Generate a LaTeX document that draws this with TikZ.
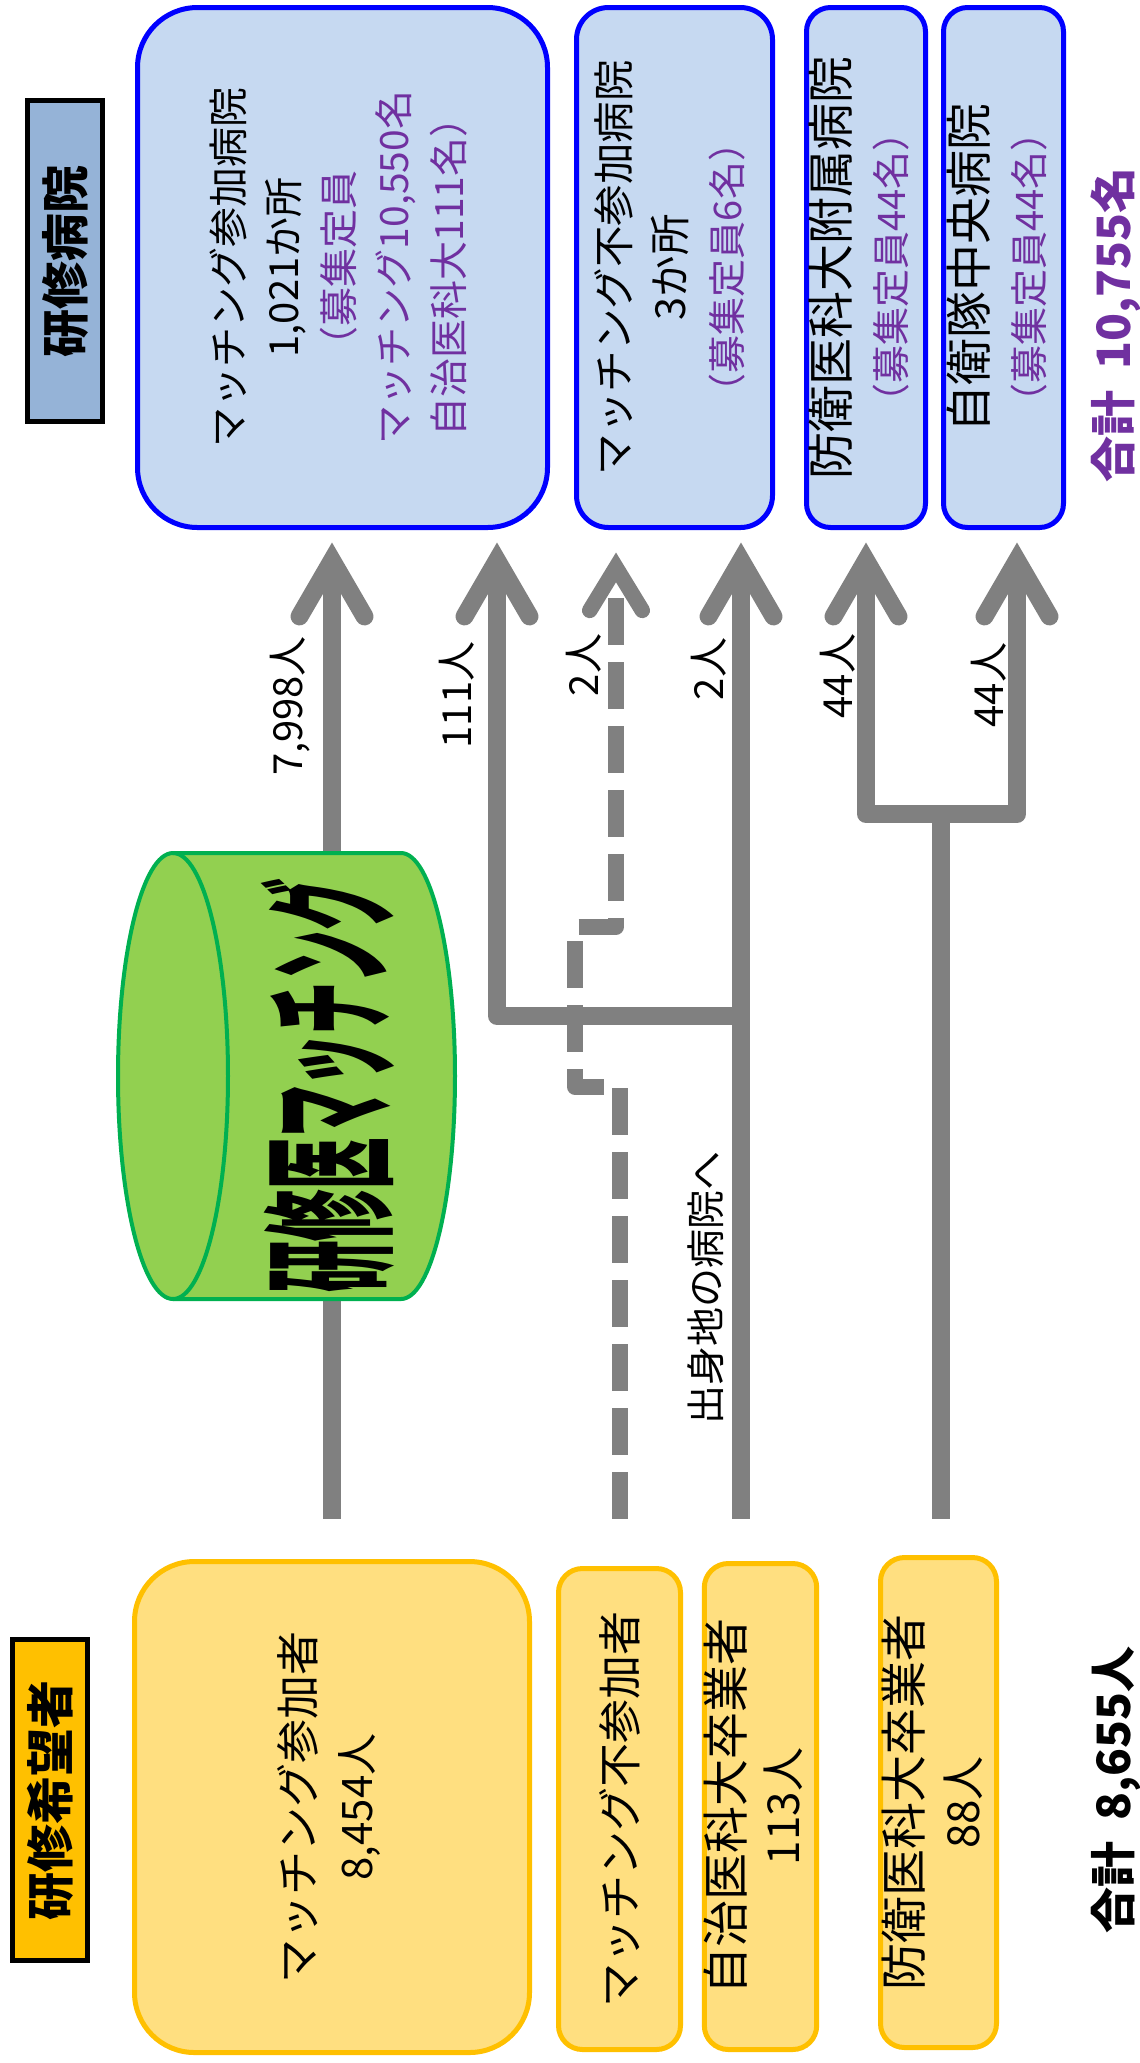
\documentclass[tikz,border=0pt]{standalone}
\usepackage{fontspec}
\setmainfont{Noto Sans CJK JP}
\usepackage{graphicx}
\usetikzlibrary{arrows.meta,calc}
\definecolor{hospblue}{RGB}{0,0,255}
\definecolor{hospfill}{RGB}{198,217,241}
\definecolor{hosplab}{RGB}{149,179,215}
\definecolor{appfill}{RGB}{255,223,128}
\definecolor{appline}{RGB}{255,192,0}
\definecolor{cylfill}{RGB}{146,208,80}
\definecolor{cylline}{RGB}{0,176,80}
\definecolor{flowgray}{RGB}{128,128,128}
\definecolor{capPurple}{RGB}{112,48,160}
\newcommand{\jfs}[2]{\fontsize{#1}{#2}\selectfont}
\tikzset{
  hospbox/.style={draw=hospblue, line width=2.5pt, fill=hospfill, inner sep=0pt},
  appbox/.style={draw=appline, line width=2.5pt, fill=appfill, inner sep=0pt},
  headbox/.style={draw=black, line width=2.25pt, inner sep=0pt, rotate=90,
    minimum width=160.5pt, minimum height=37.5pt, font=\bfseries\jfs{24pt}{28pt}},
  flow/.style={draw=flowgray, line width=9pt, line join=round, line cap=butt},
  dflow/.style={draw=flowgray, line width=7.75pt, line join=round, dash pattern=on 23.5pt off 8.5pt},
  lbl/.style={rotate=90, inner sep=0pt, font=\jfs{20pt}{24pt}},
  totaltxt/.style={rotate=90, inner sep=0pt, font=\bfseries\jfs{23pt}{27pt}},
  BigBarb/.tip={Straight Barb[length=28pt,width=32.5pt,line join=miter,line cap=round]},
  SmallBarb/.tip={Straight Barb[length=21.5pt,width=26.25pt,line join=miter,line cap=round]},
}
\begin{document}
\begin{tikzpicture}[x=0.5pt,y=-0.5pt]
\useasboundingbox (0,0) rectangle (1140,2063);
\fill[white] (0,0) rectangle (1140,2063);

% headers
\node[headbox, fill=hosplab] (hhosp) at (65,261) {研修病院};
\node[headbox, fill=appline] (happ) at (50,1800) {研修希望者};

% hospitals
\node[hospbox, rounded corners=30pt, minimum width=205pt, minimum height=260pt] (b1) at (342.5,267.5)
 {\rotatebox{90}{\jfs{20pt}{27.5pt}\begin{tabular}{@{}c@{}}マッチング参加病院\\1,021か所\\
 {\color{capPurple}\jfs{19.5pt}{27.5pt}（募集定員}\\
 {\color{capPurple}\jfs{19.5pt}{27.5pt}マッチング10,550名}\\
 {\color{capPurple}\jfs{19.5pt}{27.5pt}自治医科大111名）}\end{tabular}}};
\node[hospbox, rounded corners=16pt, minimum width=98pt, minimum height=260pt] (b2) at (674.5,267.5)
 {\rotatebox{90}{\jfs{20.75pt}{28pt}\begin{tabular}{@{}c@{}}マッチング不参加病院\\3か所\\
 {\color{capPurple}\jfs{19pt}{28pt}（募集定員6名）}\end{tabular}}};
\node[hospbox, rounded corners=12pt, minimum width=59.5pt, minimum height=260pt] (b3) at (866,267.5)
 {\rotatebox{90}{\jfs{23.5pt}{28.5pt}\begin{tabular}{@{}c@{}}防衛医科大附属病院\\
 {\color{capPurple}\jfs{19pt}{28.5pt}（募集定員44名）}\end{tabular}}};
\node[hospbox, rounded corners=12pt, minimum width=60pt, minimum height=260pt] (b4) at (1003.5,267.5)
 {\rotatebox{90}{\jfs{23.5pt}{28.5pt}\begin{tabular}{@{}c@{}}自衛隊中央病院\\
 {\color{capPurple}\jfs{19pt}{28.5pt}（募集定員44名）}\end{tabular}}};
\node[totaltxt, text=capPurple] (tothosp) at (1116,325) {合計\hspace{0.45em}10,755名};

% applicants
\node[appbox, rounded corners=30pt, minimum width=197.5pt, minimum height=245.5pt] (b5) at (332,1807)
 {\rotatebox{90}{\jfs{22pt}{29pt}\begin{tabular}{@{}c@{}}マッチング参加者\\{\jfs{21pt}{29pt}8,454人}\end{tabular}}};
\node[appbox, rounded corners=12pt, minimum width=61pt, minimum height=240.5pt] (b6) at (619.5,1809)
 {\rotatebox{90}{\jfs{22pt}{28pt}マッチング不参加者}};
\node[appbox, rounded corners=12pt, minimum width=56pt, minimum height=243pt] (b7) at (760.5,1806.5)
 {\rotatebox{90}{\jfs{23.5pt}{28pt}\begin{tabular}{@{}c@{}}自治医科大卒業者\\{\jfs{22pt}{28pt}113人}\end{tabular}}};
\node[appbox, rounded corners=12pt, minimum width=56pt, minimum height=245pt] (b8) at (938.5,1802.5)
 {\rotatebox{90}{\jfs{23.5pt}{29pt}\begin{tabular}{@{}c@{}}防衛医科大卒業者\\{\jfs{22pt}{29pt}88人}\end{tabular}}};
\node[totaltxt] (totapp) at (1116,1790) {合計\hspace{0.45em}8,655人};

% junctions
\coordinate (ja) at (741,1016);
\coordinate (jb) at (497,1016);
\coordinate (jc) at (941,814);
\coordinate (je) at (866,814);
\coordinate (jf) at (1017,814);
\coordinate (d1) at (620,1087);
\coordinate (d2) at (575,1087);
\coordinate (d3) at (575,927);
\coordinate (d4) at (616,927);

% connectors
\draw[flow, -BigBarb, shorten <=20.25pt, shorten >=6.25pt] (b5.north) -- (b5.north |- b1.south);
\draw[flow, -BigBarb, shorten <=21.25pt, shorten >=6.25pt] (ja |- b7.north) -- (ja |- b2.south);
\draw[flow, -BigBarb, shorten >=6.25pt] (ja) -- (jb) -- (jb |- b1.south);
\draw[flow, shorten <=18.25pt] (jc |- b8.north) -- (jc);
\draw[flow, BigBarb-BigBarb, shorten <=6.25pt, shorten >=6.25pt] (je |- b3.south) -- (je) -- (jf) -- (jf |- b4.south);
\draw[dflow, -SmallBarb, shorten <=23.75pt, shorten >=11.25pt] (d1 |- b6.north) -- (d1) -- (d2) -- (d3) -- (d4) -- (d4 |- b2.south);

% matching cylinder
\filldraw[fill=cylfill, draw=cylline, line width=2pt]
  (173,853) -- (401,853) arc[start angle=90, end angle=-90, x radius=27pt, y radius=111.5pt]
  -- (173,1299) arc[start angle=270, end angle=90, x radius=27.5pt, y radius=111.5pt] -- cycle;
\draw[draw=cylline, line width=2pt] (173,853) arc[start angle=90, end angle=-90, x radius=27.5pt, y radius=111.5pt];
\node[inner sep=0pt] (mtext) at (328,1086)
 {\rotatebox{90}{\scalebox{0.38}[1]{\bfseries\jfs{68pt}{68pt}研修医マッチング}}};

% flow labels
\node[lbl] (l1) at (290,706) {7,998人};
\node[lbl] (l2) at (457,695) {111人};
\node[lbl] (l3) at (584,665) {2人};
\node[lbl] (l4) at (709,669) {2人};
\node[lbl] (l5) at (838,676) {44人};
\node[lbl] (l6) at (989,685) {44人};
\node[lbl, font=\jfs{19.5pt}{24pt}] (l7) at (706,1288) {出身地の病院へ};
\end{tikzpicture}
\end{document}
